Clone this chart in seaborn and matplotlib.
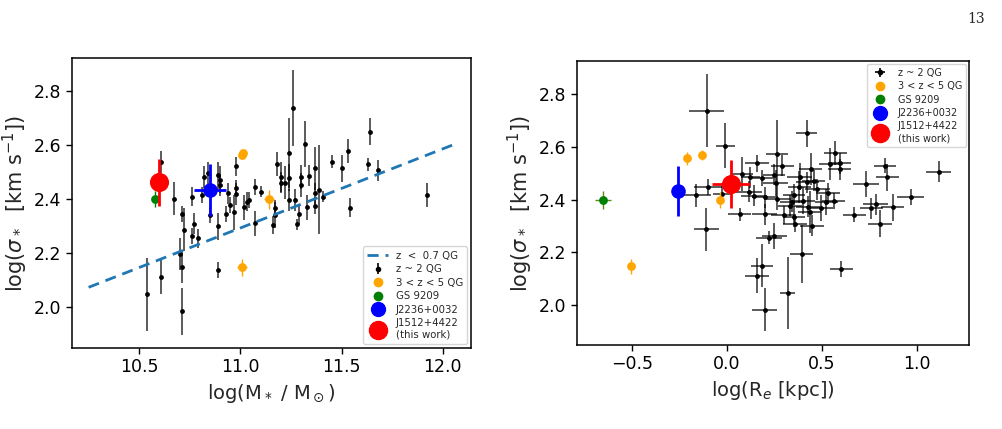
import numpy as np
import pandas as pd
import matplotlib
matplotlib.use("Agg")
import matplotlib.pyplot as plt
from matplotlib.lines import Line2D
import seaborn as sns

# ---- left panel: sigma vs stellar mass ----
qg2_mass = [10.54, 10.61, 10.61, 10.67, 10.70, 10.71, 10.71, 10.71, 10.72, 10.76, 10.76, 10.77,
            10.79, 10.81, 10.82, 10.84, 10.85, 10.89, 10.90, 10.90, 10.89, 10.89, 10.93, 10.94,
            10.95, 10.97, 10.98, 10.98, 10.98, 11.02, 11.03, 11.04, 11.07, 11.07, 11.10, 11.16,
            11.17, 11.17, 11.18, 11.20, 11.20, 11.22, 11.24, 11.24, 11.24, 11.26, 11.27, 11.28,
            11.29, 11.30, 11.30, 11.32, 11.33, 11.34, 11.37, 11.37, 11.37, 11.39, 11.41, 11.45,
            11.50, 11.53, 11.54, 11.63, 11.64, 11.68, 11.92]
qg2_sig_m = [2.046, 2.111, 2.537, 2.401, 2.196, 2.148, 1.983, 2.343, 2.286, 2.262, 2.407, 2.308,
             2.253, 2.414, 2.480, 2.495, 2.340, 2.488, 2.470, 2.450, 2.298, 2.137, 2.344, 2.420,
             2.377, 2.350, 2.521, 2.439, 2.417, 2.368, 2.390, 2.396, 2.444, 2.309, 2.427, 2.303,
             2.340, 2.367, 2.530, 2.482, 2.460, 2.460, 2.571, 2.478, 2.396, 2.736, 2.396, 2.305,
             2.342, 2.482, 2.451, 2.604, 2.368, 2.486, 2.513, 2.420, 2.375, 2.433, 2.408, 2.538,
             2.514, 2.576, 2.367, 2.528, 2.649, 2.505, 2.414]
qg2_sigerr_m = [0.136, 0.065, 0.040, 0.062, 0.059, 0.060, 0.087, 0.030, 0.080, 0.030, 0.035, 0.040,
                0.035, 0.030, 0.040, 0.040, 0.030, 0.050, 0.050, 0.040, 0.050, 0.030, 0.030, 0.040,
                0.030, 0.065, 0.035, 0.030, 0.040, 0.045, 0.035, 0.030, 0.030, 0.045, 0.020, 0.035,
                0.050, 0.030, 0.045, 0.055, 0.040, 0.060, 0.130, 0.050, 0.040, 0.140, 0.040, 0.020,
                0.035, 0.045, 0.045, 0.085, 0.045, 0.040, 0.080, 0.040, 0.030, 0.165, 0.020, 0.025,
                0.050, 0.045, 0.035, 0.024, 0.051, 0.038, 0.043]

lowz_mass = [10.25, 12.05]
lowz_sig = [2.072, 2.600]

hiz_mass = [11.008, 11.013, 11.14, 11.008]
hiz_sig_m = [2.563, 2.568, 2.398, 2.146]
hiz_masserr = [0.01, 0.01, 0.025, 0.026]
hiz_sigerr_m = [0.01, 0.01, 0.034, 0.031]

gs_mass, gs_sig_m, gs_sigerr_m = [10.58], [2.398], [0.03]
j2236_mass, j2236_sig_m, j2236_masserr, j2236_sigerr_m = [10.85], [2.433], [0.08], [0.095]
j1512_mass, j1512_sig_m, j1512_sigerr_m = [10.60], [2.461], [0.088]

# ---- right panel: sigma vs effective radius ----
qg2_re = [-0.105, -0.009, -0.098, -0.161, -0.108, -0.023, 0.068, 0.080, 0.116, 0.123, 0.143, 0.159,
          0.184, 0.201, 0.201, 0.157, 0.187, 0.200, 0.222, 0.250, 0.264, 0.249, 0.257, 0.266,
          0.292, 0.299, 0.320, 0.333, 0.341, 0.354, 0.359, 0.354, 0.383, 0.382, 0.394, 0.399,
          0.420, 0.425, 0.427, 0.436, 0.441, 0.448, 0.458, 0.476, 0.497, 0.524, 0.533, 0.545,
          0.563, 0.571, 0.594, 0.594, 0.603, 0.672, 0.732, 0.761, 0.784, 0.807, 0.833, 0.845,
          0.873, 0.968, 1.115]
qg2_sig_r = [2.738, 2.605, 2.448, 2.416, 2.287, 2.420, 2.344, 2.497, 2.430, 2.485, 2.415, 2.538,
             2.481, 2.408, 2.344, 2.111, 2.149, 1.982, 2.256, 2.262, 2.572, 2.494, 2.462, 2.401,
             2.528, 2.342, 2.046, 2.377, 2.392, 2.335, 2.306, 2.418, 2.487, 2.447, 2.195, 2.396,
             2.651, 2.465, 2.373, 2.354, 2.515, 2.300, 2.471, 2.440, 2.367, 2.392, 2.424, 2.535,
             2.396, 2.578, 2.515, 2.538, 2.138, 2.343, 2.460, 2.367, 2.382, 2.309, 2.529, 2.484,
             2.370, 2.409, 2.506]
qg2_reerr = [0.092, 0.050, 0.074, 0.080, 0.066, 0.050, 0.060, 0.060, 0.070, 0.050, 0.070, 0.065,
             0.060, 0.070, 0.066, 0.063, 0.057, 0.066, 0.070, 0.066, 0.057, 0.060, 0.065, 0.070,
             0.060, 0.065, 0.040, 0.065, 0.060, 0.060, 0.065, 0.060, 0.065, 0.060, 0.060, 0.065,
             0.057, 0.060, 0.065, 0.060, 0.060, 0.065, 0.060, 0.065, 0.060, 0.060, 0.065, 0.060,
             0.060, 0.060, 0.060, 0.060, 0.060, 0.060, 0.070, 0.060, 0.065, 0.065, 0.060, 0.060,
             0.060, 0.070, 0.065]
qg2_sigerr_r = [0.140, 0.084, 0.030, 0.045, 0.082, 0.030, 0.025, 0.063, 0.040, 0.040, 0.040, 0.032,
                0.030, 0.040, 0.040, 0.066, 0.082, 0.082, 0.025, 0.050, 0.130, 0.040, 0.050, 0.040,
                0.040, 0.035, 0.136, 0.040, 0.040, 0.040, 0.030, 0.040, 0.050, 0.060, 0.110, 0.050,
                0.050, 0.040, 0.040, 0.080, 0.060, 0.040, 0.040, 0.040, 0.050, 0.050, 0.040, 0.060,
                0.030, 0.045, 0.040, 0.040, 0.030, 0.030, 0.050, 0.040, 0.040, 0.050, 0.030, 0.050,
                0.050, 0.030, 0.040]

hiz_re = [-0.210, -0.131, -0.037, -0.502]
hiz_sig_r = [2.557, 2.570, 2.397, 2.146]
hiz_sigerr_r = [0.025, 0.02, 0.03, 0.03]

gs_re, gs_sig_r, gs_reerr, gs_sigerr_r = [-0.651], [2.399], [0.04], [0.035]
j2236_re, j2236_sig_r, j2236_reerr, j2236_sigerr_r = [-0.257], [2.433], [0.03], [0.096]
j1512_re, j1512_sig_r, j1512_reerr, j1512_sigerr_r = [0.023], [2.459], [0.098], [0.09]

sns.set_style("ticks")
plt.rcParams['font.family'] = ['DejaVu Sans']

fig = plt.figure(figsize=(10.03, 4.29), dpi=100)
ax1 = fig.add_axes([0.0718, 0.1888, 0.398, 0.676])
ax2 = fig.add_axes([0.5753, 0.1958, 0.3908, 0.662])

def draw_points(ax, x, y, color, size, z=3):
    df = pd.DataFrame({"x": x, "y": y})
    sns.scatterplot(data=df, x="x", y="y", ax=ax, color=color, s=size,
                    linewidth=0, legend=False, zorder=z)

# left
sns.lineplot(x=lowz_mass, y=lowz_sig, ax=ax1, color="#1f77b4", linestyle=(0, (4, 2.5)),
             linewidth=2, zorder=4)
ax1.errorbar(qg2_mass, qg2_sig_m, yerr=qg2_sigerr_m, fmt="none", ecolor="k", alpha=0.75,
             elinewidth=1.2, zorder=2)
draw_points(ax1, qg2_mass, qg2_sig_m, "k", 12)
ax1.errorbar(hiz_mass, hiz_sig_m, xerr=hiz_masserr, yerr=hiz_sigerr_m, fmt="none",
             ecolor="orange", elinewidth=1, zorder=3)
draw_points(ax1, hiz_mass, hiz_sig_m, "orange", 40)
ax1.errorbar(gs_mass, gs_sig_m, yerr=gs_sigerr_m, fmt="none", ecolor="green", elinewidth=1, zorder=3)
draw_points(ax1, gs_mass, gs_sig_m, "green", 40)
ax1.errorbar(j2236_mass, j2236_sig_m, xerr=j2236_masserr, yerr=j2236_sigerr_m, fmt="none",
             ecolor="blue", elinewidth=2, zorder=5)
draw_points(ax1, j2236_mass, j2236_sig_m, "blue", 110, z=6)
ax1.errorbar(j1512_mass, j1512_sig_m, yerr=j1512_sigerr_m, fmt="none",
             ecolor="red", elinewidth=2, zorder=5)
draw_points(ax1, j1512_mass, j1512_sig_m, "red", 190, z=6)

# right
ax2.errorbar(qg2_re, qg2_sig_r, xerr=qg2_reerr, yerr=qg2_sigerr_r, fmt="none", ecolor="k",
             alpha=0.75, elinewidth=1.2, zorder=2)
draw_points(ax2, qg2_re, qg2_sig_r, "k", 12)
ax2.errorbar(hiz_re, hiz_sig_r, yerr=hiz_sigerr_r, fmt="none", ecolor="orange", elinewidth=1, zorder=3)
draw_points(ax2, hiz_re, hiz_sig_r, "orange", 40)
ax2.errorbar(gs_re, gs_sig_r, xerr=gs_reerr, yerr=gs_sigerr_r, fmt="none", ecolor="#5a8a1a",
             elinewidth=1, zorder=3)
draw_points(ax2, gs_re, gs_sig_r, "green", 40)
ax2.errorbar(j2236_re, j2236_sig_r, xerr=j2236_reerr, yerr=j2236_sigerr_r, fmt="none",
             ecolor="blue", elinewidth=2, zorder=5)
draw_points(ax2, j2236_re, j2236_sig_r, "blue", 110, z=6)
ax2.errorbar(j1512_re, j1512_sig_r, xerr=j1512_reerr, yerr=j1512_sigerr_r, fmt="none",
             ecolor="red", elinewidth=2, zorder=5)
draw_points(ax2, j1512_re, j1512_sig_r, "red", 190, z=6)

ax1.set_xlim(10.168, 12.14)
ax1.set_ylim(1.847, 2.922)
ax1.set_xticks([10.5, 11.0, 11.5, 12.0])
ax1.set_yticks([2.0, 2.2, 2.4, 2.6, 2.8])
ax2.set_xlim(-0.788, 1.275)
ax2.set_ylim(1.848, 2.926)
ax2.set_xticks([-0.5, 0.0, 0.5, 1.0])
ax2.set_yticks([2.0, 2.2, 2.4, 2.6, 2.8])

ax1.set_xlabel(r"log(M$_*$ / M$_\odot$)", fontsize=14)
ax2.set_xlabel(r"log(R$_e$ [kpc])", fontsize=14)
for ax in (ax1, ax2):
    ax.set_ylabel(r"log($\sigma_*$  [km s$^{-1}$])", fontsize=15, labelpad=3)
    ax.tick_params(labelsize=12.5, width=1, length=4, colors="k")
    for sp in ax.spines.values():
        sp.set_linewidth(1.1)
        sp.set_color("k")

# legends
qg_left = ax1.errorbar([np.nan], [np.nan], yerr=[0.1], fmt="o", color="k", ms=3, elinewidth=1.2)
qg_right = ax2.errorbar([np.nan], [np.nan], xerr=[0.1], yerr=[0.1], fmt="o", color="k", ms=3,
                        elinewidth=1.2)
def mk(c, ms):
    return Line2D([], [], marker="o", color=c, linestyle="none", ms=ms)
common = [mk("orange", 6), mk("green", 6), mk("blue", 10), mk("red", 13)]
labels = ["3 < z < 5 QG", "GS 9209", "J2236+0032", "J1512+4422\n(this work)"]
dash = Line2D([], [], color="#1f77b4", linestyle=(0, (4, 2.5)), linewidth=2)
ax1.legend([dash, qg_left] + common, ["z  <  0.7 QG", "z ~ 2 QG"] + labels,
           loc="lower right", fontsize=7.3, handlelength=2.0, borderaxespad=0.4,
           labelspacing=0.35)
ax2.legend([qg_right] + common, ["z ~ 2 QG"] + labels,
           loc="upper right", fontsize=7.0, handlelength=2.0, borderaxespad=0.3,
           labelspacing=0.35)

fig.text(0.982, 0.972, "13", family="DejaVu Serif", fontsize=10, ha="right", va="top")

fig.savefig("out.png", dpi=100)
